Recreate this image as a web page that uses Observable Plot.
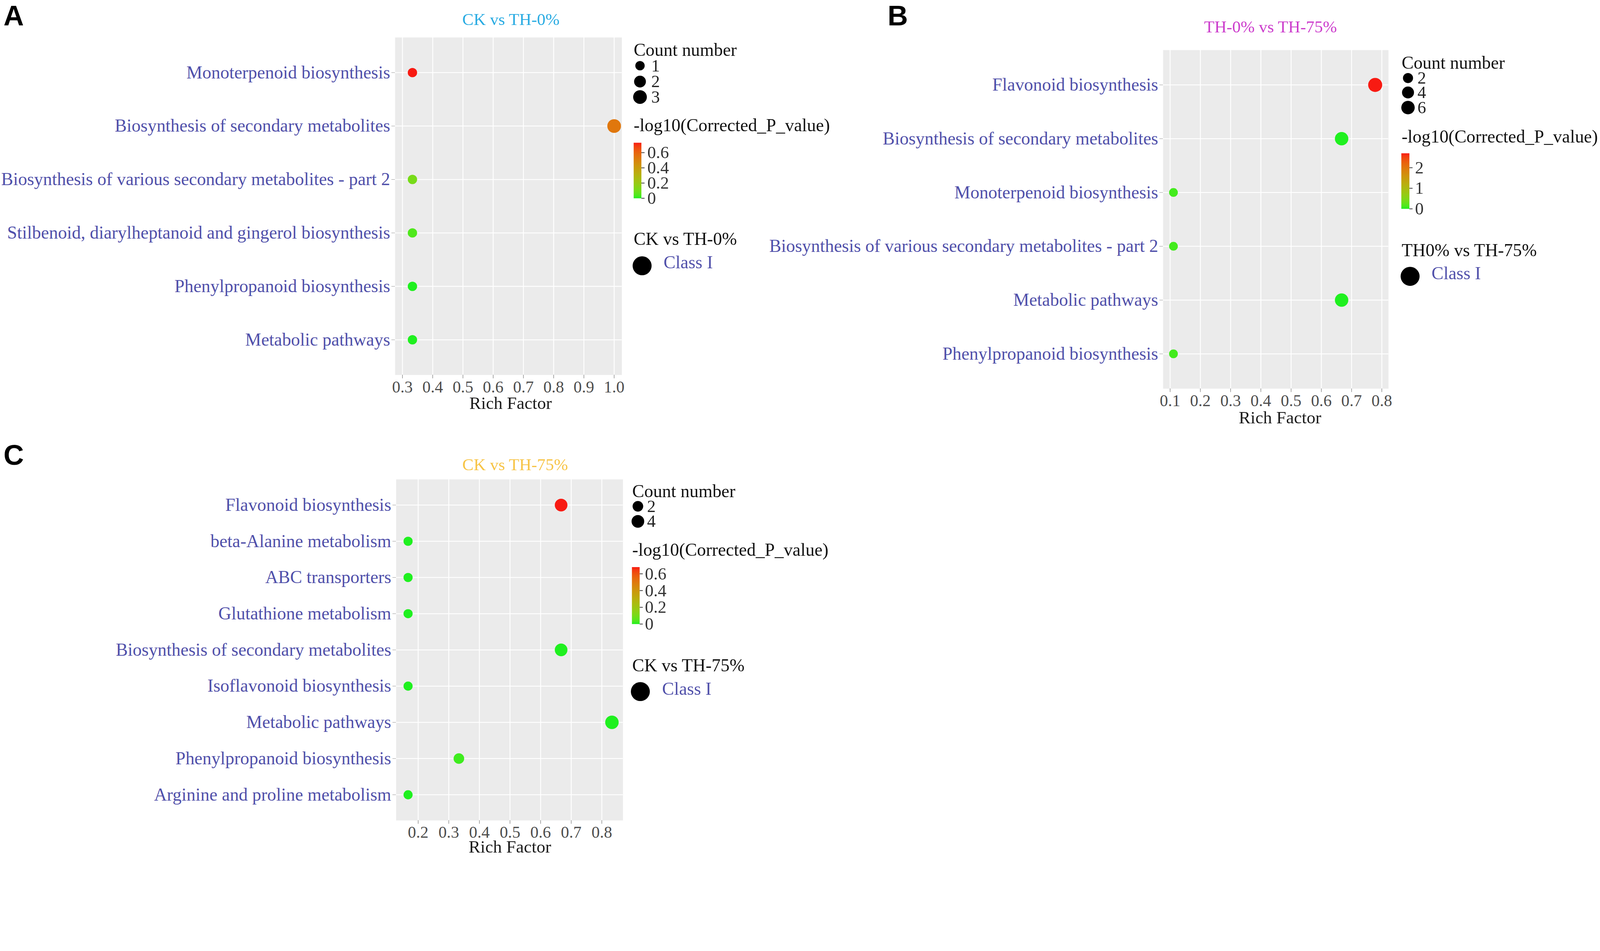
<!DOCTYPE html>
<html><head><meta charset="utf-8">
<script src="https://cdn.jsdelivr.net/npm/d3@7"></script>
<script src="https://cdn.jsdelivr.net/npm/@observablehq/plot@0.6"></script>
<style>
html,body{margin:0;padding:0;background:#fff;overflow:hidden;}
#root{position:absolute;left:0;top:0;width:4550px;height:2435px;overflow:visible;background:#fff;transform-origin:0 0;}
#root svg{position:absolute;overflow:visible;}
</style></head><body><div id="root"></div>
<script>
// ---------------- data ----------------
const termsA = ["Monoterpenoid biosynthesis","Biosynthesis of secondary metabolites","Biosynthesis of various secondary metabolites - part 2","Stilbenoid, diarylheptanoid and gingerol biosynthesis","Phenylpropanoid biosynthesis","Metabolic pathways"];
const richA  = [0.333, 1.0, 0.333, 0.333, 0.333, 0.333];
const countA = [1, 3, 1, 1, 1, 1];
const logpA  = [0.73, 0.54, 0.11, 0.04, 0.0, 0.0];

const termsB = ["Flavonoid biosynthesis","Biosynthesis of secondary metabolites","Monoterpenoid biosynthesis","Biosynthesis of various secondary metabolites - part 2","Metabolic pathways","Phenylpropanoid biosynthesis"];
const richB  = [0.778, 0.667, 0.111, 0.111, 0.667, 0.111];
const countB = [7, 6, 1, 1, 6, 1];
const logpB  = [2.7, 0.0, 0.1, 0.1, 0.0, 0.1];

const termsC = ["Flavonoid biosynthesis","beta-Alanine metabolism","ABC transporters","Glutathione metabolism","Biosynthesis of secondary metabolites","Isoflavonoid biosynthesis","Metabolic pathways","Phenylpropanoid biosynthesis","Arginine and proline metabolism"];
const richC  = [0.667, 0.167, 0.167, 0.167, 0.667, 0.167, 0.833, 0.333, 0.167];
const countC = [4, 1, 1, 1, 4, 1, 5, 2, 1];
const logpC  = [0.68, 0.0, 0.0, 0.0, 0.0, 0.0, 0.0, 0.02, 0.0];

const ticksA = [0.3, 0.4, 0.5, 0.6, 0.7, 0.8, 0.9, 1.0];
const ticksB = [0.1, 0.2, 0.3, 0.4, 0.5, 0.6, 0.7, 0.8];
const ticksC = [0.2, 0.3, 0.4, 0.5, 0.6, 0.7, 0.8];

const sizeKeysA = [1, 2, 3];
const sizeKeysB = [2, 4, 6];
const sizeKeysC = [2, 4];

const colorTicksA = [0, 0.2, 0.4, 0.6];
const colorTicksB = [0, 1, 2];
const colorTicksC = [0, 0.2, 0.4, 0.6];

const titleA = "CK vs TH-0%";
const titleB = "TH-0% vs TH-75%";
const titleC = "CK vs TH-75%";
const groupA = "CK vs TH-0%";
const groupB = "TH0% vs TH-75%";
const groupC = "CK vs TH-75%";

// ---------------- style ----------------
const SERIF = "'Liberation Serif','Times New Roman',Times,serif";
const SANS = "'Liberation Sans',Arial,sans-serif";
const LOW = "#1ff01f", HIGH = "#f81a12";
const LABEL_BLUE = "#5050aa";

const root = document.getElementById("root");
function fit() {
  const s = Math.min(window.innerWidth / 4550, window.innerHeight / 2435);
  root.style.transform = `scale(${s})`;
}
fit();
window.addEventListener("resize", fit);

function makePanel(p) {
  const data = p.terms.map((t, i) => ({term: t, rich: p.rich[i], count: p.count[i], logp: p.logp[i]}));
  const chart = Plot.plot({
    width: p.width, height: p.height,
    marginLeft: p.frame[0] - p.left,
    marginRight: p.left + p.width - p.frame[1],
    marginTop: p.frame[2] - p.top,
    marginBottom: p.top + p.height - p.frame[3],
    style: {fontFamily: SERIF, background: "transparent", overflow: "visible"},
    x: {domain: p.xDomain},
    y: {type: "point", domain: p.terms, padding: p.yPad},
    r: {type: "sqrt", domain: [d3.min(p.count), d3.max(p.count)], range: p.rRange},
    color: {type: "linear", domain: [d3.min(p.logp), d3.max(p.logp)], range: [LOW, HIGH], interpolate: d3.interpolateLab},
    marks: [
      Plot.frame({fill: "#ebebeb", stroke: "none"}),
      Plot.gridX(p.ticks, {stroke: "#ffffff", strokeOpacity: 1, strokeWidth: 2.5}),
      Plot.gridY(p.terms, {stroke: "#ffffff", strokeOpacity: 1, strokeWidth: 2.5}),
      Plot.axisX(p.ticks, {tickFormat: d3.format(".1f"), fontSize: 47, fill: "#4d4d4d", stroke: "#444", tickSize: 10, tickPadding: 6, label: null}),
      Plot.axisY(p.terms, {fontSize: 51, fill: LABEL_BLUE, stroke: "#888", tickSize: 10, tickPadding: 4, label: null}),
      Plot.dot(data, {x: "rich", y: "term", r: "count", fill: "logp"})
    ]
  });
  chart.style.left = p.left + "px";
  chart.style.top = p.top + "px";
  root.appendChild(chart);
  return chart;
}

const panelA = {terms: termsA, rich: richA, count: countA, logp: logpA, ticks: ticksA,
  left: 0, top: 0, width: 2450, height: 1215, frame: [1123, 1768, 106, 1066],
  xDomain: [0.2756, 1.0256], yPad: 0.64, rRange: [13.3, 19.5]};
const panelB = {terms: termsB, rich: richB, count: countB, logp: logpB, ticks: ticksB,
  left: 2100, top: 0, width: 2450, height: 1250, frame: [3307, 3948, 142, 1105],
  xDomain: [0.0767, 0.822], yPad: 0.64, rRange: [12.5, 20]};
const panelC = {terms: termsC, rich: richC, count: countC, logp: logpC, ticks: ticksC,
  left: 0, top: 1215, width: 2450, height: 1220, frame: [1126, 1771, 1363, 2333],
  xDomain: [0.128, 0.869], yPad: 0.69, rRange: [13, 19.2]};

const chartA = makePanel(panelA);
const chartB = makePanel(panelB);
const chartC = makePanel(panelC);

// ---------------- overlay: titles, axis labels, legends ----------------
const ov = d3.select(root).append("svg")
  .attr("width", 4550).attr("height", 2435)
  .style("left", "0px").style("top", "0px")
  .style("font-family", SERIF);
const defs = ov.append("defs");

function txt(x, y, s, size, fill, anchor, family, weight) {
  ov.append("text").attr("x", x).attr("y", y).text(s)
    .attr("font-size", size).attr("fill", fill)
    .attr("text-anchor", anchor || "start")
    .attr("font-family", family || SERIF)
    .attr("font-weight", weight || "normal");
}

function scaleFn(chart, name, fallback) {
  const s = chart.scale(name);
  if (s && typeof s.apply === "function") return v => s.apply(v);
  return fallback;
}

function legend(chart, id, lg, sizeKeys, colorTicks, logp, group) {
  const rOf = scaleFn(chart, "r", d3.scaleSqrt().domain(lg.rDomain).range(lg.rRange));
  const cmin = d3.min(logp), cmax = d3.max(logp);
  const cOf = scaleFn(chart, "color", d3.scaleLinear().domain([cmin, cmax]).range([LOW, HIGH]).interpolate(d3.interpolateLab));
  txt(lg.L, lg.countY, "Count number", 51, "#111");
  sizeKeys.forEach((k, i) => {
    ov.append("circle").attr("cx", lg.keyX).attr("cy", lg.keyY[i]).attr("r", rOf(k)).attr("fill", "#000");
    txt(lg.keyLabelX, lg.keyY[i] + 16, String(k), 49, "#222");
  });
  txt(lg.L, lg.pY, "-log10(Corrected_P_value)", 51, "#111");
  const grad = defs.append("linearGradient").attr("id", id)
    .attr("x1", 0).attr("y1", 1).attr("x2", 0).attr("y2", 0);
  d3.range(0, 1.0001, 0.05).forEach(t => {
    grad.append("stop").attr("offset", t).attr("stop-color", cOf(cmin + t * (cmax - cmin)));
  });
  const [bx0, bx1, by0, by1] = lg.bar;
  ov.append("rect").attr("x", bx0).attr("y", by0).attr("width", bx1 - bx0).attr("height", by1 - by0)
    .attr("fill", `url(#${id})`);
  const yb = d3.scaleLinear().domain([cmin, cmax]).range([by1, by0]);
  colorTicks.forEach(v => {
    const y = yb(v);
    ov.append("line").attr("x1", bx1).attr("x2", bx1 + 9).attr("y1", y).attr("y2", y)
      .attr("stroke", "#555").attr("stroke-width", 2.5);
    txt(lg.barLabelX, y + 16, String(v), 49, "#333");
  });
  txt(lg.L, lg.groupY, group, 51, "#111");
  ov.append("circle").attr("cx", lg.classC[0]).attr("cy", lg.classC[1]).attr("r", 27).attr("fill", "#000");
  txt(lg.classX, lg.classY, "Class I", 51, LABEL_BLUE);
}

txt(10, 72, "A", 80, "#000", "start", SANS, "bold");
txt(2524, 72, "B", 80, "#000", "start", SANS, "bold");
txt(10, 1322, "C", 80, "#000", "start", SANS, "bold");

txt(1453, 71, titleA, 48, "#29abe2", "middle");
txt(3613, 92, titleB, 48, "#cc3ccc", "middle");
txt(1465, 1338, titleC, 48, "#f7c446", "middle");

txt(1452, 1163, "Rich Factor", 50, "#1a1a1a", "middle");
txt(3640, 1204, "Rich Factor", 50, "#1a1a1a", "middle");
txt(1450, 2425, "Rich Factor", 50, "#1a1a1a", "middle");

legend(chartA, "gradA", {L: 1802, countY: 159, keyX: 1820, keyY: [187, 232, 276], keyLabelX: 1852,
  pY: 373, bar: [1802, 1824, 406, 564], barLabelX: 1841, groupY: 697, classC: [1826, 756], classX: 1887, classY: 763,
  rDomain: [1, 3], rRange: panelA.rRange}, sizeKeysA, colorTicksA, logpA, groupA);
legend(chartB, "gradB", {L: 3986, countY: 195, keyX: 4004, keyY: [222, 263, 306], keyLabelX: 4031,
  pY: 406, bar: [3985, 4008, 436, 594], barLabelX: 4024, groupY: 729, classC: [4010, 786], classX: 4071, classY: 794,
  rDomain: [1, 7], rRange: panelB.rRange}, sizeKeysB, colorTicksB, logpB, groupB);
legend(chartC, "gradC", {L: 1798, countY: 1414, keyX: 1814, keyY: [1440, 1483], keyLabelX: 1840,
  pY: 1581, bar: [1797, 1819, 1613, 1775], barLabelX: 1834, groupY: 1909, classC: [1821, 1967], classX: 1883, classY: 1976,
  rDomain: [1, 5], rRange: panelC.rRange}, sizeKeysC, colorTicksC, logpC, groupC);
</script>
</body></html>
